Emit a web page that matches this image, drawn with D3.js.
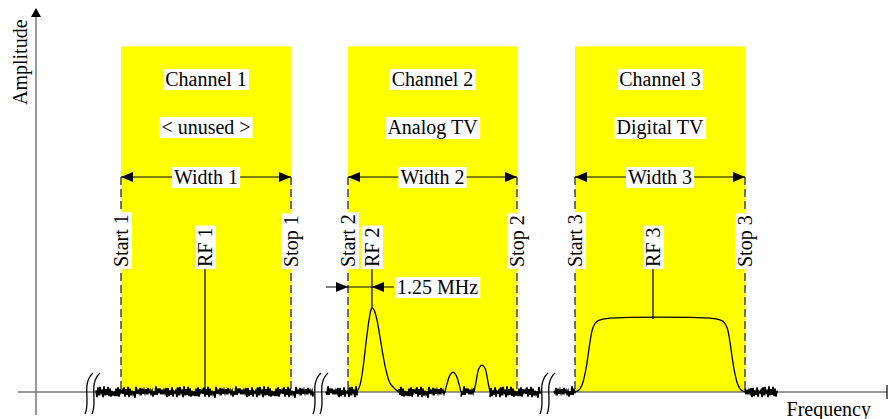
<!DOCTYPE html>
<html><head><meta charset="utf-8">
<script src="https://cdn.jsdelivr.net/npm/d3@7"></script>
<style>
body{margin:0;background:#fff}
text{font-family:"Liberation Serif","Times New Roman",serif;font-size:20px;fill:#000}
</style>
</head><body><svg id="c" width="889" height="419"></svg>
<script>
// ---- data ----
const channelNames = ["Channel 1","Channel 2","Channel 3"];
const channelTypes = ["< unused >","Analog TV","Digital TV"];
const widthLabels = ["Width 1","Width 2","Width 3"];
const startLabels = ["Start 1","Start 2","Start 3"];
const stopLabels = ["Stop 1","Stop 2","Stop 3"];
const rfLabels = ["RF 1","RF 2","RF 3"];
const channelStart = [85, 312, 539];
const channelStop = [255, 481, 709];
const rfFreq = [169, 336, 617];
const channelLevel = 90;
const analogCarrier = [[321,0],[324,1.8],[327,6.2],[330,12.8],[333,18.7],[335,21.4],[336,21.9],[338,21.4],[341,18.7],[344,14.3],[347,9.6],[350,5.7],[354,2.3],[359,0.8],[363,0]];
const analogBump1 = [[409,0],[411,2.1],[414,4.4],[417,5.2],[420,4.4],[423,2.1],[425,0]];
const analogBump2 = [[438,0],[440,2.6],[443,6.2],[446,7.0],[449,6.2],[452,2.6],[454,0]];
const digitalSignal = [[539,0],[543,0.5],[546,1.8],[550,6],[554,13],[557,16.8],[561,18.4],[567,19],[681,19],[687,18.4],[691,16.8],[694,13],[698,6],[702,1.8],[705,0.5],[709,0]];
const breakFreqs = [50, 278, 505];
const noiseSpans = [[60,277],[290,321],[363,409],[425,438],[454,504],[518,539],[709,741]];
const noise = [0.3,-0.8,0.6,-0.2,0.9,-0.6,0.1,-0.9,0.5,-0.3,0.7,-0.7,0.2,-0.5,0.8,-0.1,0.4,-0.9,0.6,-0.4,1.0,-0.6,0.3,-0.2,0.7,-0.8,0.1,-0.5,0.9,-0.3,0.5,-0.7,0.2,-1.0,0.6,-0.1,0.8,-0.4,0.3,-0.6,0.9,-0.2,0.4,-0.8,0.7,-0.5,0.1,-0.3,0.6,-0.9,0.5,-0.1,0.8,-0.7,0.2,-0.4,1.0,-0.5,0.3,-0.8,0.6,-0.2,0.4,-0.6,0.9,-0.3,0.1,-0.7,0.7,-0.4,0.5,-0.9,0.2,-0.1,0.8,-0.6,0.3,-0.5,0.6,-0.8];
const offsetLabel = "1.25 MHz";
const yAxisLabel = "Amplitude";
const xAxisLabel = "Frequency";

// ---- scales ----
const x = d3.scaleLinear().domain([0, 851]).range([36, 887]);
const y = d3.scaleLinear().domain([0, 100]).range([392, 8]);

const svg = d3.select("#c");
const yNameRow = 79, yTypeRow = 127, yWidthRow = 177, yVertBottom = 267, yOffsetRow = 287;

function boxedText(parent, str, tx, ty, rot, anchor) {
  const g = parent.append("g").attr("transform", `translate(${tx},${ty}) rotate(${rot})`);
  const r = g.append("rect").attr("fill", "#fff");
  const t = g.append("text").text(str).attr("text-anchor", anchor).attr("dominant-baseline", "central");
  const b = t.node().getBBox();
  r.attr("x", b.x - 2).attr("y", b.y + 1).attr("width", b.width + 4).attr("height", b.height - 1);
  return g;
}

// channel rectangles
svg.selectAll("rect.ch").data(channelStart).join("rect").attr("class", "ch")
  .attr("x", (d) => x(d)).attr("y", y(channelLevel))
  .attr("width", (d, i) => x(channelStop[i]) - x(d))
  .attr("height", y(0) - y(channelLevel))
  .attr("fill", "#ffff00");

// dashed edges
const edges = channelStart.concat(channelStop);
svg.selectAll("line.edge").data(edges).join("line").attr("class", "edge")
  .attr("x1", (d) => x(d)).attr("x2", (d) => x(d))
  .attr("y1", yWidthRow).attr("y2", y(0))
  .attr("stroke", "#444").attr("stroke-width", 1.5).attr("stroke-dasharray", "8,4");

// width arrows
channelStart.forEach((s, i) => {
  const x1 = x(s), x2 = x(channelStop[i]);
  svg.append("line").attr("x1", x1).attr("x2", x2).attr("y1", yWidthRow).attr("y2", yWidthRow)
    .attr("stroke", "#000").attr("stroke-width", 1.2);
  svg.append("path").attr("d", `M${x1},${yWidthRow}L${x1 + 12},${yWidthRow - 5}L${x1 + 12},${yWidthRow + 5}Z`).attr("fill", "#000");
  svg.append("path").attr("d", `M${x2},${yWidthRow}L${x2 - 12},${yWidthRow - 5}L${x2 - 12},${yWidthRow + 5}Z`).attr("fill", "#000");
  const cx = (x1 + x2) / 2;
  boxedText(svg, widthLabels[i], cx, yWidthRow, 0, "middle");
  boxedText(svg, channelNames[i], cx, yNameRow, 0, "middle");
  boxedText(svg, channelTypes[i], cx, yTypeRow, 0, "middle");
});

// RF lines
const rfEnd = [0, 21.9, 19];
rfFreq.forEach((f, i) => {
  svg.append("line").attr("x1", x(f)).attr("x2", x(f)).attr("y1", yVertBottom).attr("y2", y(rfEnd[i]))
    .attr("stroke", "#000").attr("stroke-width", 1.2);
});

// vertical labels
channelStart.forEach((s, i) => {
  boxedText(svg, startLabels[i], x(s), yVertBottom, -90, "start");
  boxedText(svg, stopLabels[i], x(channelStop[i]), yVertBottom, -90, "start");
  boxedText(svg, rfLabels[i], x(rfFreq[i]), yVertBottom, -90, "start");
});

// 1.25 MHz offset marker
{
  const xa = x(channelStart[1]), xb = x(rfFreq[1]);
  svg.append("line").attr("x1", xa - 22).attr("x2", xb + 22).attr("y1", yOffsetRow).attr("y2", yOffsetRow)
    .attr("stroke", "#000").attr("stroke-width", 1.2);
  svg.append("path").attr("d", `M${xa},${yOffsetRow}L${xa - 12},${yOffsetRow - 5}L${xa - 12},${yOffsetRow + 5}Z`).attr("fill", "#000");
  svg.append("path").attr("d", `M${xb},${yOffsetRow}L${xb + 12},${yOffsetRow - 5}L${xb + 12},${yOffsetRow + 5}Z`).attr("fill", "#000");
  boxedText(svg, offsetLabel, xb + 25, yOffsetRow, 0, "start");
}

// axes
svg.append("line").attr("x1", 18).attr("x2", x(851)).attr("y1", y(0)).attr("y2", y(0))
  .attr("stroke", "#777").attr("stroke-width", 1.5);
svg.append("line").attr("x1", x(851)).attr("x2", x(851)).attr("y1", y(0) - 7).attr("y2", y(0) + 7)
  .attr("stroke", "#000").attr("stroke-width", 1.2);
svg.append("line").attr("x1", x(0)).attr("x2", x(0)).attr("y1", 415).attr("y2", y(98))
  .attr("stroke", "#777").attr("stroke-width", 1.5);
svg.append("path").attr("d", `M${x(0)},${y(100)}L${x(0) - 5},${y(100) + 9}L${x(0) + 5},${y(100) + 9}Z`).attr("fill", "#000");

// signals
const line = d3.line().x((d) => x(d[0])).y((d) => y(d[1])).curve(d3.curveCatmullRom.alpha(0.5));
[analogCarrier, analogBump1, analogBump2, digitalSignal].forEach((s) => {
  svg.append("path").attr("d", line(s)).attr("fill", "none").attr("stroke", "#000").attr("stroke-width", 1.3);
});

// noise floor
let k = 0;
const lin = d3.line().x((d) => x(d[0])).y((d) => y(d[1]));
noiseSpans.forEach(([a, b]) => {
  const pts = [];
  for (let f = a; f <= b; f += 1.0) { pts.push([f, noise[k % noise.length] * 1.5]); k += 7; }
  pts.push([b, 0]);
  svg.append("path").attr("d", lin(pts)).attr("fill", "none").attr("stroke", "#000").attr("stroke-width", 1.7);
});

// axis breaks
breakFreqs.forEach((f) => {
  [0, 7].forEach((o) => {
    const bx = x(f) + o;
    svg.append("path").attr("d", `M${bx + 7},373C${bx - 5},384 ${bx + 5},401 ${bx - 1},414`)
      .attr("fill", "none").attr("stroke", "#000").attr("stroke-width", 1.3);
  });
});

// axis labels
svg.append("text").text(yAxisLabel).attr("transform", `translate(${x(0) - 16},105) rotate(-90)`)
  .attr("text-anchor", "start").attr("dominant-baseline", "central");
svg.append("text").text(xAxisLabel).attr("x", 871).attr("y", 409)
  .attr("text-anchor", "end").attr("dominant-baseline", "central");
</script>
</body></html>
